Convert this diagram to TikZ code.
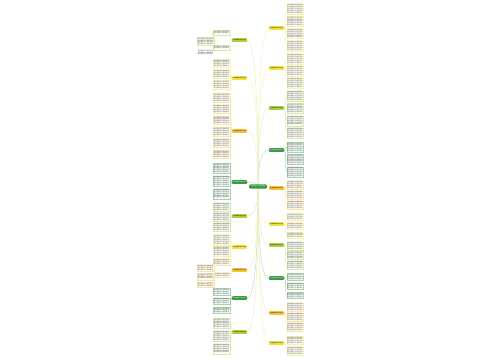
\documentclass[tikz,border=0pt]{standalone}
\usepackage{fontspec}
\newfontfamily\cjk{Noto Sans CJK SC}
\usetikzlibrary{calc,backgrounds}
\pgfdeclarelayer{paper}
\pgfsetlayers{paper,background,main}
\XeTeXlinebreaklocale "zh"
\XeTeXlinebreakskip=0pt plus 0.5pt
\definecolor{cy}{HTML}{F0E040}
\definecolor{cl}{HTML}{A8D040}
\definecolor{cg}{HTML}{3A9A48}
\definecolor{co}{HTML}{F5C23A}
\newcommand\mytxt[1]{\foreach\k in {1,...,#1}{春风拂面花开满园草绿}}
\tikzset{
 leaf/.style={draw=#1!45, fill=#1!7, line width=0.25pt, inner sep=0.6pt, text width=15.4pt, align=left, font=\cjk\fontsize{1.5}{1.85}\selectfont, text=black!60},
 brbox/.style={fill=#1, rounded corners=0.8pt, minimum width=15pt, minimum height=3.6pt, inner sep=0pt, font=\cjk\fontsize{1.3}{1.5}\selectfont},
 rootbox/.style={fill=cg, rounded corners=1.2pt, minimum width=18pt, minimum height=4.4pt, inner sep=0pt, font=\cjk\fontsize{1.25}{1.5}\selectfont, text=white},
 conn/.style={draw=#1!30, line width=0.55pt},
 lconn/.style={draw=#1!50, line width=0.3pt},
}
\begin{document}
\begin{tikzpicture}[x=1pt,y=-1pt]
\useasboundingbox (0,0) rectangle (500,360);
\begin{pgfonlayer}{paper}
\fill[white] (0,0) rectangle (500,360);
\end{pgfonlayer}
\node[rootbox] (root) at (258,186.5) {春天的作文300字左右精选};
% right branches
\foreach \nm/\yb/\col/\ya/\yz/\tc in {R1/28/cy/3/52/black, R2/68/cy/53/89/black, R3/108/cl/90/139/black, R4/150/cg/141/178/white, R5/188/co/180/210/black, R6/224/cy/212/240/black, R7/245/cl/241/270/black, R8/278/cg/272/300/white, R9/313/co/302/332/black, R10/343/cy/335/356/black}{
  \node[brbox=\col, text=\tc] (\nm) at (276.5,\yb) {关于春天的作文三百字};
  \begin{pgfonlayer}{background}
  \draw[conn=\col] (root.center) .. controls ($(root.center)!0.45!(root.center |- \nm.west)$) and ($(\nm.west)+(-9,0)$) .. (\nm.west);
  \end{pgfonlayer}
  \pgfmathtruncatemacro\nlv{max(1,round((\yz-\ya)/11))}
  \pgfmathsetmacro\spc{(\yz-\ya)/\nlv}
  \pgfmathtruncatemacro\nln{max(2,floor((\spc-2.2)/1.85))}
  \foreach \i in {1,...,\nlv}{
    \pgfmathsetmacro\yc{\ya+\spc*(\i-0.5)}
    \node[leaf=\col] (\nm-\i) at (295,\yc) {\mytxt{\nln}};
    \draw[lconn=\col] (\nm.east) .. controls +(1.5,0) and +(-1.5,0) .. (\nm-\i.west);
  }
}
% left branches with plain leaves
\foreach \nm/\yb/\col/\ya/\yz/\tc in {L2/78/cy/58/90/black, L3/131/co/92/160/black, L4/182/cg/162/200/white, L5/216/cl/202/232/black, L6/247/cy/234/257/black, L8/298/cg/287/315/white, L9/332/cl/317/355/black}{
  \node[brbox=\col, text=\tc] (\nm) at (239.5,\yb) {关于春天的作文三百字};
  \begin{pgfonlayer}{background}
  \draw[conn=\col] (root.center) .. controls ($(root.center)!0.45!(root.center |- \nm.east)$) and ($(\nm.east)+(9,0)$) .. (\nm.east);
  \end{pgfonlayer}
  \pgfmathtruncatemacro\nlv{max(1,round((\yz-\ya)/11))}
  \pgfmathsetmacro\spc{(\yz-\ya)/\nlv}
  \pgfmathtruncatemacro\nln{max(2,floor((\spc-2.2)/1.85))}
  \foreach \i in {1,...,\nlv}{
    \pgfmathsetmacro\yc{\ya+\spc*(\i-0.5)}
    \node[leaf=\col] (\nm-\i) at (221.5,\yc) {\mytxt{\nln}};
    \draw[lconn=\col] (\nm.west) .. controls +(-1.5,0) and +(1.5,0) .. (\nm-\i.east);
  }
}
% left branch L1 with nested leaves
\node[brbox=cl] (L1) at (239.5,40) {关于春天的作文三百字};
\begin{pgfonlayer}{background}
\draw[conn=cl] (root.center) .. controls ($(root.center)!0.45!(root.center |- L1.east)$) and ($(L1.east)+(9,0)$) .. (L1.east);
\end{pgfonlayer}
\node[leaf=cl] (L1a) at (221.5,32.5) {\mytxt{2}};
\node[leaf=cl] (L1b) at (221.5,47.5) {\mytxt{2}};
\node[leaf=cl] (L1c) at (205.5,41.5) {\mytxt{4}};
\node[leaf=cl, draw=none, fill=none] (L1d) at (205.5,52.5) {\mytxt{3}};
\foreach \t in {L1a,L1b}{\draw[lconn=cl] (L1.west) .. controls +(-1.5,0) and +(1.5,0) .. (\t.east);}
\foreach \t in {L1c,L1d}{\draw[lconn=cl] (L1a.west) .. controls +(-1.5,0) and +(1.5,0) .. (\t.east);}
% left branch L7 with nested leaves
\node[brbox=co] (L7) at (239.5,270) {关于春天的作文三百字};
\begin{pgfonlayer}{background}
\draw[conn=co] (root.center) .. controls ($(root.center)!0.45!(root.center |- L7.east)$) and ($(L7.east)+(9,0)$) .. (L7.east);
\end{pgfonlayer}
\node[leaf=co] (L7a) at (221.5,262) {\mytxt{3}};
\node[leaf=co] (L7b) at (221.5,275) {\mytxt{2}};
\node[leaf=co] (L7c) at (205.5,268) {\mytxt{3}};
\node[leaf=co] (L7d) at (205.5,276.5) {\mytxt{3}};
\node[leaf=co] (L7e) at (205.5,284.5) {\mytxt{2}};
\foreach \t in {L7a,L7b}{\draw[lconn=co] (L7.west) .. controls +(-1.5,0) and +(1.5,0) .. (\t.east);}
\foreach \t in {L7c,L7d,L7e}{\draw[lconn=co] (L7b.west) .. controls +(-1.5,0) and +(1.5,0) .. (\t.east);}
\end{tikzpicture}
\end{document}
